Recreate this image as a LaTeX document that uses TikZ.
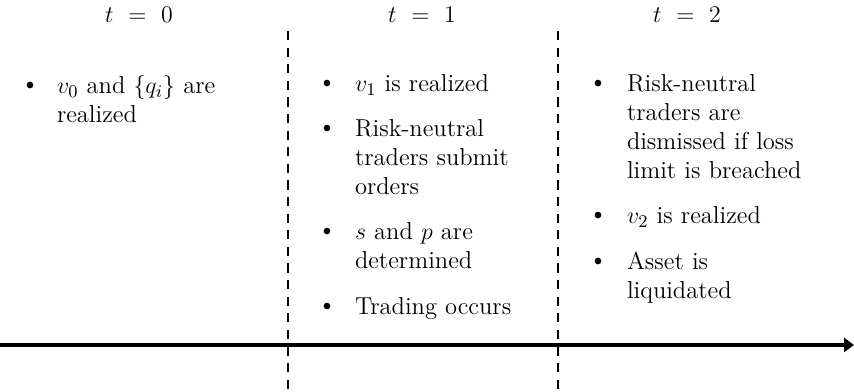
\documentclass[tikz,border=0pt]{standalone}
\usetikzlibrary{arrows.meta}
\begin{document}
\begin{tikzpicture}[x=0.5bp,y=-0.5bp,
  txt/.style={font=\fontsize{12.25bp}{14.5bp}\selectfont, inner sep=0pt, outer sep=0pt},
  itm/.style={txt, anchor=base west, text width=115bp, align=left},
  bul/.style={font=\fontsize{8bp}{9bp}\selectfont, inner sep=0pt, outer sep=0pt, anchor=base, yshift=2bp},
  hdr/.style={txt, anchor=base},
  divider/.style={line width=1bp, dash pattern=on 4.6bp off 3.7bp},
  axis/.style={line width=2bp, -{Triangle[length=5bp,width=7bp]}}]
\useasboundingbox (0,0) rectangle (854,392);
% headers
\node[hdr] (h0) at (139,23) {$t\ =\ 0$};
\node[hdr] (h1) at (422,23) {$t\ =\ 1$};
\node[hdr] (h2) at (687,23) {$t\ =\ 2$};
% dividers
\coordinate (d1t) at (288,31); \coordinate (d1b) at (288,392);
\coordinate (d2t) at (558,31); \coordinate (d2b) at (558,392);
\draw[divider] (d1t) -- (d1b);
\draw[divider] (d2t) -- (d2b);
% axis
\coordinate (ax0) at (0,345); \coordinate (ax1) at (854,345);
\draw[axis] (ax0) -- (ax1);
% column 0
\node[bul] (b01) at (30,94) {$\bullet$};
\node[itm] (c01) at (57,94) {$v_0$ and $\{q_i\}$ are\\realized};
% column 1
\node[bul] (b11) at (327,92) {$\bullet$};
\node[itm] (c11) at (355,92) {$v_1$ is realized};
\node[bul] (b12) at (327,137) {$\bullet$};
\node[itm] (c12) at (355,137) {Risk-neutral\\traders submit\\orders};
\node[bul] (b13) at (327,240) {$\bullet$};
\node[itm] (c13) at (355,240) {$s$ and $p$ are\\determined};
\node[bul] (b14) at (327,315) {$\bullet$};
\node[itm] (c14) at (355,315) {Trading occurs};
% column 2
\node[bul] (b21) at (598,92) {$\bullet$};
\node[itm] (c21) at (627,92) {Risk-neutral\\traders are\\dismissed if loss\\limit is breached};
\node[bul] (b22) at (598,224) {$\bullet$};
\node[itm] (c22) at (627,224) {$v_2$ is realized};
\node[bul] (b23) at (598,270) {$\bullet$};
\node[itm] (c23) at (627,270) {Asset is\\liquidated};
\end{tikzpicture}
\end{document}
